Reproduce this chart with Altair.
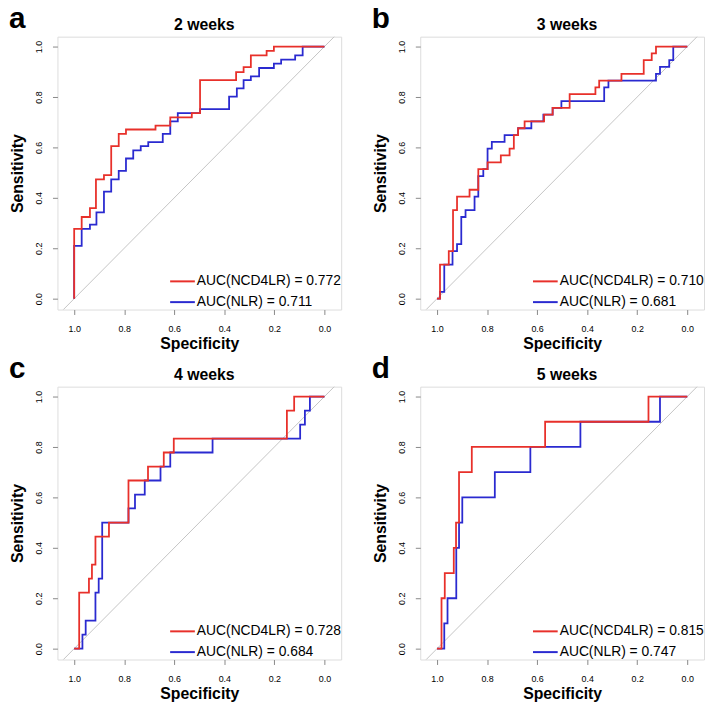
import altair as alt
import pandas as pd

weeks = ["2 weeks", "3 weeks", "4 weeks", "5 weeks"]
letters = ["a", "b", "c", "d"]
auc_ncd4lr = ["0.772", "0.710", "0.728", "0.815"]
auc_nlr = ["0.711", "0.681", "0.684", "0.747"]

# Each ROC curve: specificities where the curve rises, and the sensitivity reached there
a_ncd_spec = [1.0, 0.970, 0.937, 0.913, 0.881, 0.852, 0.822, 0.793, 0.675, 0.616, 0.530, 0.497, 0.353, 0.323, 0.294, 0.231, 0.202]
a_ncd_sens = [0.277, 0.324, 0.359, 0.473, 0.490, 0.605, 0.654, 0.671, 0.686, 0.719, 0.736, 0.867, 0.899, 0.918, 0.965, 0.983, 1.0]
a_nlr_spec = [1.0, 0.970, 0.937, 0.911, 0.881, 0.852, 0.822, 0.793, 0.764, 0.734, 0.704, 0.646, 0.616, 0.586, 0.497, 0.381, 0.350, 0.323, 0.294, 0.261, 0.202, 0.173, 0.117, 0.087]
a_nlr_sens = [0.209, 0.277, 0.294, 0.342, 0.425, 0.473, 0.507, 0.556, 0.588, 0.605, 0.621, 0.654, 0.703, 0.736, 0.752, 0.801, 0.834, 0.867, 0.882, 0.915, 0.932, 0.948, 0.965, 1.0]

b_ncd_spec = [0.988, 0.953, 0.936, 0.920, 0.870, 0.835, 0.798, 0.745, 0.710, 0.693, 0.676, 0.650, 0.572, 0.538, 0.470, 0.367, 0.352, 0.263, 0.174, 0.142, 0.125]
b_ncd_sens = [0.135, 0.189, 0.351, 0.405, 0.432, 0.514, 0.541, 0.568, 0.595, 0.649, 0.676, 0.703, 0.730, 0.757, 0.811, 0.838, 0.865, 0.892, 0.946, 0.973, 1.0]
b_nlr_spec = [0.988, 0.971, 0.938, 0.920, 0.903, 0.886, 0.850, 0.835, 0.815, 0.798, 0.781, 0.730, 0.676, 0.623, 0.575, 0.538, 0.503, 0.332, 0.315, 0.125, 0.109, 0.072, 0.056]
b_nlr_sens = [0.027, 0.135, 0.189, 0.216, 0.324, 0.351, 0.405, 0.486, 0.514, 0.595, 0.622, 0.649, 0.676, 0.703, 0.730, 0.757, 0.784, 0.838, 0.865, 0.892, 0.919, 0.946, 1.0]

c_ncd_spec = [0.980, 0.941, 0.929, 0.915, 0.861, 0.783, 0.705, 0.642, 0.602, 0.150, 0.121]
c_ncd_sens = [0.222, 0.278, 0.333, 0.444, 0.500, 0.667, 0.722, 0.778, 0.833, 0.944, 1.0]
c_nlr_spec = [0.967, 0.954, 0.915, 0.902, 0.888, 0.783, 0.757, 0.718, 0.655, 0.616, 0.447, 0.097, 0.078, 0.058]
c_nlr_sens = [0.056, 0.111, 0.222, 0.278, 0.500, 0.556, 0.611, 0.667, 0.722, 0.778, 0.833, 0.889, 0.944, 1.0]

d_ncd_spec = [0.982, 0.969, 0.933, 0.924, 0.912, 0.861, 0.568, 0.155]
d_ncd_sens = [0.2, 0.3, 0.4, 0.5, 0.7, 0.8, 0.9, 1.0]
d_nlr_spec = [0.971, 0.958, 0.923, 0.912, 0.899, 0.769, 0.627, 0.427, 0.109]
d_nlr_sens = [0.1, 0.2, 0.4, 0.5, 0.6, 0.7, 0.8, 0.9, 1.0]

curves = [
    ((a_ncd_spec, a_ncd_sens), (a_nlr_spec, a_nlr_sens)),
    ((b_ncd_spec, b_ncd_sens), (b_nlr_spec, b_nlr_sens)),
    ((c_ncd_spec, c_ncd_sens), (c_nlr_spec, c_nlr_sens)),
    ((d_ncd_spec, d_ncd_sens), (d_nlr_spec, d_nlr_sens)),
]

RED = "#e8302a"
BLUE = "#2a2ad0"
FONT = "Liberation Sans"
W, H = 287, 276


def step_path(spec, sens):
    pts = []
    if spec[0] < 1.0:
        pts.append((1.0, 0.0))
    pts.append((spec[0], 0.0))
    for i in range(len(spec)):
        pts.append((spec[i], sens[i]))
        nxt = spec[i + 1] if i + 1 < len(spec) else 0.0
        pts.append((nxt, sens[i]))
    return pts


def panel(i, w=W, h=H):
    lab1 = f"AUC(NCD4LR) = {auc_ncd4lr[i]}"
    lab2 = f"AUC(NLR) = {auc_nlr[i]}"
    frames = {}
    for lab, (s, l) in [(lab1, curves[i][0]), (lab2, curves[i][1])]:
        rows = [{"spec": x, "sens": y, "curve": lab, "ord": k}
                for k, (x, y) in enumerate(step_path(s, l))]
        frames[lab] = pd.DataFrame(rows)

    xs = alt.Scale(domain=[-0.0669, 1.0669], reverse=True, nice=False, zero=False)
    ys = alt.Scale(domain=[-0.0431, 1.0392], nice=False, zero=False)
    ticks = [1.0, 0.8, 0.6, 0.4, 0.2, 0.0]
    xax = alt.Axis(values=ticks, format=".1f", title="Specificity", grid=False, domain=False,
                   tickSize=5, labelFontSize=9, labelPadding=10, titleFontSize=16,
                   titleFontWeight="bold", titlePadding=2, labelFlush=False)
    yax = alt.Axis(values=ticks, format=".1f", title="Sensitivity", grid=False, domain=False,
                   tickSize=5, labelFontSize=9, labelPadding=9, labelAngle=270,
                   labelAlign="center", labelBaseline="bottom", titleFontSize=16,
                   titleFontWeight="bold", titlePadding=9, labelFlush=False)
    X = alt.X("spec:Q", scale=xs, axis=xax)
    Y = alt.Y("sens:Q", scale=ys, axis=yax)

    diag = alt.Chart(pd.DataFrame({"spec": [1.3, -0.3], "sens": [-0.3, 1.3]})).mark_line(
        color="#c4c4c4", strokeWidth=1, clip=True).encode(x=X, y=Y)

    color = alt.Color("curve:N", scale=alt.Scale(domain=[lab1, lab2], range=[RED, BLUE]),
                      legend=alt.Legend(title=None, orient="bottom-right", offset=0,
                                        labelFontSize=14, labelFont=FONT, labelColor="#000",
                                        symbolType="stroke", symbolSize=625, symbolStrokeWidth=2,
                                        labelOffset=1, rowPadding=-4, padding=0))
    blue = alt.Chart(frames[lab2]).mark_line(strokeWidth=1.8, clip=True, interpolate="linear").encode(
        x=X, y=Y, color=color, order="ord:Q")
    red = alt.Chart(frames[lab1]).mark_line(strokeWidth=1.8, clip=True, interpolate="linear").encode(
        x=X, y=Y, color=color, order="ord:Q")

    letter = alt.Chart(pd.DataFrame({"t": [letters[i]]})).mark_text(
        fontSize=30, fontWeight="bold", font=FONT, align="left", baseline="alphabetic",
        color="#000").encode(text="t:N", x=alt.value(-49), y=alt.value(-9))
    title = alt.Chart(pd.DataFrame({"t": [weeks[i]]})).mark_text(
        fontSize=16, fontWeight="bold", font=FONT, align="center", baseline="alphabetic",
        color="#000").encode(text="t:N", x=alt.value(w / 2 + 5), y=alt.value(-7))

    return alt.layer(diag, blue, red, letter, title).properties(width=w, height=h)


chart = alt.concat(panel(0), panel(1), panel(2), panel(3), columns=2,
                   spacing={"row": 78, "column": 80}, bounds="flush").resolve_scale(
    color="independent", x="independent", y="independent"
).resolve_legend(color="independent").properties(
    padding={"top": -9, "left": 0, "right": 0, "bottom": 0}
).configure_view(stroke="#555555", strokeWidth=1).configure_axis(
    labelFont=FONT, titleFont=FONT, labelColor="#444444", tickColor="#555555", titleColor="#000000"
).configure(background="white")

chart.save("out.html", embed_options={"renderer": "svg", "actions": False})
